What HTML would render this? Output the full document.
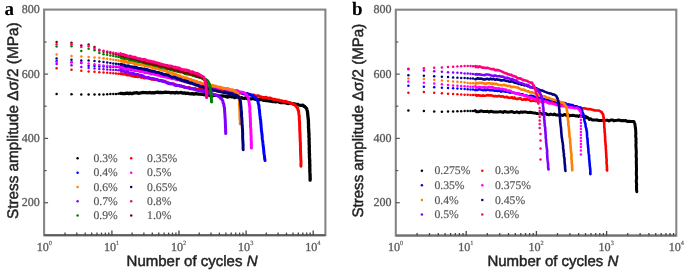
<!DOCTYPE html>
<html><head><meta charset="utf-8"><style>
html,body{margin:0;padding:0;background:#fff;width:685px;height:272px;overflow:hidden}
svg{display:block;text-rendering:geometricPrecision;filter:blur(0.6px);}
.tk{font-family:"Liberation Serif",serif;font-size:12px;fill:#505050;stroke:#6a6a6a;stroke-width:0.35px}
.tx{font-size:12.1px}
.sup{font-size:6.3px;stroke-width:0.2px}
.lg{font-family:"Liberation Serif",serif;font-size:11.7px;fill:#4c4c4c;stroke:#777;stroke-width:0.22px}
.lbl{font-family:"Liberation Sans",sans-serif;font-size:15px;fill:#1e1e1e;stroke:#2a2a2a;stroke-width:0.5px}
.yl{font-size:15.3px}
.pl{font-family:"Liberation Serif",serif;font-size:19px;font-weight:bold;fill:#000}
</style></head><body>
<svg width="685" height="272" viewBox="0 0 685 272">
<rect x="44.1" y="9.6" width="281.3" height="225.6" fill="none" stroke="#868686" stroke-width="2.1"/><line x1="44.1" y1="235.2" x2="325.4" y2="235.2" stroke="#5c5c5c" stroke-width="2"/><line x1="44.1" y1="202.7" x2="48.1" y2="202.7" stroke="#555" stroke-width="1.2"/><text x="39.7" y="206.2" text-anchor="end" class="tk">200</text><line x1="44.1" y1="170.6" x2="46.6" y2="170.6" stroke="#555" stroke-width="1.2"/><line x1="44.1" y1="138.4" x2="48.1" y2="138.4" stroke="#555" stroke-width="1.2"/><text x="39.7" y="141.9" text-anchor="end" class="tk">400</text><line x1="44.1" y1="106.2" x2="46.6" y2="106.2" stroke="#555" stroke-width="1.2"/><line x1="44.1" y1="74.1" x2="48.1" y2="74.1" stroke="#555" stroke-width="1.2"/><text x="39.7" y="77.6" text-anchor="end" class="tk">600</text><line x1="44.1" y1="42" x2="46.6" y2="42" stroke="#555" stroke-width="1.2"/><text x="39.7" y="13.3" text-anchor="end" class="tk">800</text><line x1="65" y1="235.2" x2="65" y2="232.6" stroke="#444" stroke-width="1.3"/><line x1="76.8" y1="235.2" x2="76.8" y2="232.6" stroke="#444" stroke-width="1.3"/><line x1="85.2" y1="235.2" x2="85.2" y2="232.6" stroke="#444" stroke-width="1.3"/><line x1="91.7" y1="235.2" x2="91.7" y2="232.6" stroke="#444" stroke-width="1.3"/><line x1="97" y1="235.2" x2="97" y2="232.6" stroke="#444" stroke-width="1.3"/><line x1="101.5" y1="235.2" x2="101.5" y2="232.6" stroke="#444" stroke-width="1.3"/><line x1="105.4" y1="235.2" x2="105.4" y2="232.6" stroke="#444" stroke-width="1.3"/><line x1="108.8" y1="235.2" x2="108.8" y2="232.6" stroke="#444" stroke-width="1.3"/><text x="44.4" y="251.4" text-anchor="middle" class="tk tx">10<tspan class="sup" dy="-6.6">0</tspan></text><line x1="111.9" y1="235.2" x2="111.9" y2="230.6" stroke="#444" stroke-width="1.3"/><line x1="132.1" y1="235.2" x2="132.1" y2="232.6" stroke="#444" stroke-width="1.3"/><line x1="143.9" y1="235.2" x2="143.9" y2="232.6" stroke="#444" stroke-width="1.3"/><line x1="152.3" y1="235.2" x2="152.3" y2="232.6" stroke="#444" stroke-width="1.3"/><line x1="158.8" y1="235.2" x2="158.8" y2="232.6" stroke="#444" stroke-width="1.3"/><line x1="164.1" y1="235.2" x2="164.1" y2="232.6" stroke="#444" stroke-width="1.3"/><line x1="168.6" y1="235.2" x2="168.6" y2="232.6" stroke="#444" stroke-width="1.3"/><line x1="172.5" y1="235.2" x2="172.5" y2="232.6" stroke="#444" stroke-width="1.3"/><line x1="175.9" y1="235.2" x2="175.9" y2="232.6" stroke="#444" stroke-width="1.3"/><text x="111.5" y="251.4" text-anchor="middle" class="tk tx">10<tspan class="sup" dy="-6.6">1</tspan></text><line x1="179" y1="235.2" x2="179" y2="230.6" stroke="#444" stroke-width="1.3"/><line x1="199.2" y1="235.2" x2="199.2" y2="232.6" stroke="#444" stroke-width="1.3"/><line x1="211" y1="235.2" x2="211" y2="232.6" stroke="#444" stroke-width="1.3"/><line x1="219.4" y1="235.2" x2="219.4" y2="232.6" stroke="#444" stroke-width="1.3"/><line x1="225.9" y1="235.2" x2="225.9" y2="232.6" stroke="#444" stroke-width="1.3"/><line x1="231.2" y1="235.2" x2="231.2" y2="232.6" stroke="#444" stroke-width="1.3"/><line x1="235.7" y1="235.2" x2="235.7" y2="232.6" stroke="#444" stroke-width="1.3"/><line x1="239.6" y1="235.2" x2="239.6" y2="232.6" stroke="#444" stroke-width="1.3"/><line x1="243" y1="235.2" x2="243" y2="232.6" stroke="#444" stroke-width="1.3"/><text x="178.6" y="251.4" text-anchor="middle" class="tk tx">10<tspan class="sup" dy="-6.6">2</tspan></text><line x1="246.1" y1="235.2" x2="246.1" y2="230.6" stroke="#444" stroke-width="1.3"/><line x1="266.3" y1="235.2" x2="266.3" y2="232.6" stroke="#444" stroke-width="1.3"/><line x1="278.1" y1="235.2" x2="278.1" y2="232.6" stroke="#444" stroke-width="1.3"/><line x1="286.5" y1="235.2" x2="286.5" y2="232.6" stroke="#444" stroke-width="1.3"/><line x1="293" y1="235.2" x2="293" y2="232.6" stroke="#444" stroke-width="1.3"/><line x1="298.3" y1="235.2" x2="298.3" y2="232.6" stroke="#444" stroke-width="1.3"/><line x1="302.8" y1="235.2" x2="302.8" y2="232.6" stroke="#444" stroke-width="1.3"/><line x1="306.7" y1="235.2" x2="306.7" y2="232.6" stroke="#444" stroke-width="1.3"/><line x1="310.1" y1="235.2" x2="310.1" y2="232.6" stroke="#444" stroke-width="1.3"/><text x="245.7" y="251.4" text-anchor="middle" class="tk tx">10<tspan class="sup" dy="-6.6">3</tspan></text><line x1="313.2" y1="235.2" x2="313.2" y2="230.6" stroke="#444" stroke-width="1.3"/><text x="312.8" y="251.4" text-anchor="middle" class="tk tx">10<tspan class="sup" dy="-6.6">4</tspan></text><text x="17.6" y="219" class="lbl" style="font-size:15.3px" transform="rotate(-90 17.6 219)">Stress amplitude &#916;&#963;/2 (MPa)</text><text x="126.6" y="266.2" class="lbl">Number of cycles <tspan font-style="italic">N</tspan></text>
<rect x="395.8" y="9.7" width="280.5" height="225.9" fill="none" stroke="#868686" stroke-width="2.1"/><line x1="395.8" y1="235.6" x2="676.3" y2="235.6" stroke="#727272" stroke-width="2"/><line x1="395.8" y1="202.7" x2="399.8" y2="202.7" stroke="#555" stroke-width="1.2"/><text x="391.4" y="206.2" text-anchor="end" class="tk">200</text><line x1="395.8" y1="170.6" x2="398.3" y2="170.6" stroke="#555" stroke-width="1.2"/><line x1="395.8" y1="138.4" x2="399.8" y2="138.4" stroke="#555" stroke-width="1.2"/><text x="391.4" y="141.9" text-anchor="end" class="tk">400</text><line x1="395.8" y1="106.2" x2="398.3" y2="106.2" stroke="#555" stroke-width="1.2"/><line x1="395.8" y1="74.1" x2="399.8" y2="74.1" stroke="#555" stroke-width="1.2"/><text x="391.4" y="77.6" text-anchor="end" class="tk">600</text><line x1="395.8" y1="42" x2="398.3" y2="42" stroke="#555" stroke-width="1.2"/><text x="391.4" y="13.3" text-anchor="end" class="tk">800</text><line x1="417.1" y1="235.6" x2="417.1" y2="233" stroke="#444" stroke-width="1.3"/><line x1="429.5" y1="235.6" x2="429.5" y2="233" stroke="#444" stroke-width="1.3"/><line x1="438.3" y1="235.6" x2="438.3" y2="233" stroke="#444" stroke-width="1.3"/><line x1="445.1" y1="235.6" x2="445.1" y2="233" stroke="#444" stroke-width="1.3"/><line x1="450.6" y1="235.6" x2="450.6" y2="233" stroke="#444" stroke-width="1.3"/><line x1="455.3" y1="235.6" x2="455.3" y2="233" stroke="#444" stroke-width="1.3"/><line x1="459.4" y1="235.6" x2="459.4" y2="233" stroke="#444" stroke-width="1.3"/><line x1="463" y1="235.6" x2="463" y2="233" stroke="#444" stroke-width="1.3"/><text x="395.6" y="251.4" text-anchor="middle" class="tk tx">10<tspan class="sup" dy="-6.6">0</tspan></text><line x1="466.2" y1="235.6" x2="466.2" y2="231" stroke="#444" stroke-width="1.3"/><line x1="487.3" y1="235.6" x2="487.3" y2="233" stroke="#444" stroke-width="1.3"/><line x1="499.7" y1="235.6" x2="499.7" y2="233" stroke="#444" stroke-width="1.3"/><line x1="508.5" y1="235.6" x2="508.5" y2="233" stroke="#444" stroke-width="1.3"/><line x1="515.3" y1="235.6" x2="515.3" y2="233" stroke="#444" stroke-width="1.3"/><line x1="520.8" y1="235.6" x2="520.8" y2="233" stroke="#444" stroke-width="1.3"/><line x1="525.5" y1="235.6" x2="525.5" y2="233" stroke="#444" stroke-width="1.3"/><line x1="529.6" y1="235.6" x2="529.6" y2="233" stroke="#444" stroke-width="1.3"/><line x1="533.2" y1="235.6" x2="533.2" y2="233" stroke="#444" stroke-width="1.3"/><text x="465.8" y="251.4" text-anchor="middle" class="tk tx">10<tspan class="sup" dy="-6.6">1</tspan></text><line x1="536.4" y1="235.6" x2="536.4" y2="231" stroke="#444" stroke-width="1.3"/><line x1="557.5" y1="235.6" x2="557.5" y2="233" stroke="#444" stroke-width="1.3"/><line x1="569.9" y1="235.6" x2="569.9" y2="233" stroke="#444" stroke-width="1.3"/><line x1="578.7" y1="235.6" x2="578.7" y2="233" stroke="#444" stroke-width="1.3"/><line x1="585.5" y1="235.6" x2="585.5" y2="233" stroke="#444" stroke-width="1.3"/><line x1="591" y1="235.6" x2="591" y2="233" stroke="#444" stroke-width="1.3"/><line x1="595.7" y1="235.6" x2="595.7" y2="233" stroke="#444" stroke-width="1.3"/><line x1="599.8" y1="235.6" x2="599.8" y2="233" stroke="#444" stroke-width="1.3"/><line x1="603.4" y1="235.6" x2="603.4" y2="233" stroke="#444" stroke-width="1.3"/><text x="536" y="251.4" text-anchor="middle" class="tk tx">10<tspan class="sup" dy="-6.6">2</tspan></text><line x1="606.6" y1="235.6" x2="606.6" y2="231" stroke="#444" stroke-width="1.3"/><line x1="627.7" y1="235.6" x2="627.7" y2="233" stroke="#444" stroke-width="1.3"/><line x1="640.1" y1="235.6" x2="640.1" y2="233" stroke="#444" stroke-width="1.3"/><line x1="648.9" y1="235.6" x2="648.9" y2="233" stroke="#444" stroke-width="1.3"/><line x1="655.7" y1="235.6" x2="655.7" y2="233" stroke="#444" stroke-width="1.3"/><line x1="661.2" y1="235.6" x2="661.2" y2="233" stroke="#444" stroke-width="1.3"/><line x1="665.9" y1="235.6" x2="665.9" y2="233" stroke="#444" stroke-width="1.3"/><line x1="670" y1="235.6" x2="670" y2="233" stroke="#444" stroke-width="1.3"/><line x1="673.6" y1="235.6" x2="673.6" y2="233" stroke="#444" stroke-width="1.3"/><text x="606.2" y="251.4" text-anchor="middle" class="tk tx">10<tspan class="sup" dy="-6.6">3</tspan></text><text x="676.4" y="251.4" text-anchor="middle" class="tk tx">10<tspan class="sup" dy="-6.6">4</tspan></text><text x="362.8" y="217.6" class="lbl" style="font-size:15.1px" transform="rotate(-90 362.8 217.6)">Stress amplitude &#916;&#963;/2 (MPa)</text><text x="487.4" y="266.2" class="lbl">Number of cycles <tspan font-style="italic">N</tspan></text>
<text x="4.6" y="14.6" class="pl">a</text>
<text x="352" y="14.9" class="pl">b</text>
<g fill="#000000"><circle cx="56.6" cy="93.9" r="1.25"/><circle cx="71.5" cy="94.3" r="1.25"/><circle cx="81.3" cy="94.4" r="1.25"/><circle cx="88.6" cy="94.4" r="1.25"/><circle cx="94.5" cy="94.5" r="1.25"/><circle cx="99.3" cy="94.5" r="1.25"/><circle cx="103.5" cy="94.4" r="1.25"/><circle cx="107.2" cy="94.2" r="1.25"/><circle cx="110.4" cy="94.1" r="1.25"/><circle cx="113.3" cy="94" r="1.25"/><circle cx="116" cy="93.9" r="1.25"/><circle cx="118.4" cy="93.8" r="1.25"/><polyline fill="none" stroke="#000000" stroke-width="3.3" stroke-linejoin="round" stroke-linecap="round" points="120.6,93.4 121.1,93.3 122,93.5 123.3,93.6 125.1,93.5 127.4,93.1 128.9,93.7 130.2,93.1 131.9,93.7 133.5,93.1 134.8,92.8 136,92.9 137.1,92.7 138.3,93.3 139.5,93.1 140.8,92.8 142.5,92.5 144.2,92.6 146.1,92.7 147.7,92.8 149.4,92.5 151.2,92.8 152.7,92.7 154.5,92.9 156.2,92.3 157.9,92.1 159.3,92.7 160.8,92.4 162.4,92.6 164.1,92.4 165.7,92.2 167.2,92.4 168.8,92.3 170.4,92.8 171.9,92.6 173.3,92.6 175,93 176.6,92.4 178.1,92.8 179.6,92.7 181.2,92.5 182.7,93.1 184.3,92.8 185.9,93.5 187.4,93.2 189.1,93.7 190.8,93.8 192.2,93.6 193.9,94.1 195.7,93.6 197.1,93.8 198.8,94.2 200.6,94.1 202.2,94.4 204.1,94.7 206,95 207.1,95 208.3,94.6 209.6,95.4 210.8,95.5 211.9,95.2 213,95.6 214.3,95.2 215.5,95.4 216.8,95.4 217.9,95.6 219.2,95.8 220.3,96.4 222.2,95.9 223.8,96.2 225.5,96.2 227.3,97.1 228.7,96.7 230.2,96.5 231.8,96.8 233.4,96.8 234.6,97.6 236.1,97 237.4,97 238.8,98 240.1,97.8 241.2,97.6 242.6,98.1 244.2,98.3 245.9,97.9 247.7,98.8 249.1,98.7 250.3,98.8 251.5,98.8 253,98.5 254.4,98.9 255.9,99.4 257.3,99.3 258.5,99.9 259.7,99.5 260.7,99.5 262,99.6 263.5,100.4 264.9,100.2 266.1,100.6 267.4,100.7 269.1,101 270.5,100.9 271.8,101.3 273.1,101.5 274.5,101.3 275.6,101.9 276.9,101.4 278,101.5 279.6,102.3 280.8,102.5 282.4,102.5 283.6,102.6 284.8,102.2 286.2,103 287.3,103.4 288.5,103.5 290,103.1 291.2,103.3 292.6,103.8 294.3,103.9 296,104.6 297.4,104.4 298.9,105 300.8,105.4 302.2,105.3 302.8,105.1 303.4,105.5 303.8,106.3 304.4,106.3 305,106.8 305.3,107.1 305.8,107.7 306,108 306.3,108.2 306.8,109 307,110.1 307.3,110.8 307.5,112 307.6,113.5 307.8,114.9 308,117 308.2,118.8 308.4,120.3 308.4,123.1 308.6,124.7 308.5,126.2 308.5,127.3 308.6,129 308.8,130.5 308.7,131.8 308.9,132.6 309,134.9 308.9,136.3 309,137.5 309.2,139.4 309,140.6 309.2,142.1 309.1,143.8 309.3,145.1 309.3,147.2 309.2,148.8 309.4,150.7 309.3,152.9 309.6,154.6 309.4,155.8 309.5,157.4 309.6,158.1 309.6,160 309.8,160.6 309.6,162.5 309.8,163.5 309.7,164.2 309.9,165.8 309.7,167.6 309.9,169.1 309.8,170.8 309.9,172.2 310,173.2 310.1,176.1 310.1,177.3 310.2,178.8 310.1,179.7 310.1,180.2"/></g>
<g fill="#ff0000"><circle cx="56.6" cy="68.2" r="1.25"/><circle cx="71.5" cy="69.8" r="1.25"/><circle cx="81.3" cy="70.7" r="1.25"/><circle cx="88.6" cy="71.4" r="1.25"/><circle cx="94.5" cy="71.8" r="1.25"/><circle cx="99.3" cy="72.2" r="1.25"/><circle cx="103.5" cy="72.6" r="1.25"/><circle cx="107.2" cy="72.8" r="1.25"/><circle cx="110.4" cy="73.1" r="1.25"/><circle cx="113.3" cy="73.3" r="1.25"/><circle cx="116" cy="73.5" r="1.25"/><circle cx="118.4" cy="73.7" r="1.25"/><polyline fill="none" stroke="#ff0000" stroke-width="3.0" stroke-linejoin="round" stroke-linecap="round" points="120.6,73.7 121.3,73.8 122.5,73.9 124.3,74 125.5,74.2 126.9,74.9 128.2,75.1 130,75 131.2,75.5 132.3,76 133.5,75.9 135,76.6 136.4,76.6 137.9,76.7 139.1,76.6 140.2,76.6 141.4,77.4 142.7,77 144.2,77.9 145.9,78 147.2,77.8 148.6,78.3 149.9,78.5 151.3,79.2 152.7,79 153.7,79.6 154.9,79.3 156.4,79.6 158.2,80.1 159.5,80.4 160.8,80.4 162,80.8 163.2,80.8 165.2,81.5 166.8,82.3 168.6,82.9 170.6,83.7 172.7,83.8 174.1,84 175.3,84.7 176.5,85.3 178.1,85.4 179.6,85.9 180.9,86 182.6,86.7 184.3,87.1 186,87.5 187.8,87.7 188.9,87.4 190.1,87.9 191.3,88.6 192.6,88.6 193.9,88.8 195.1,88.4 196.4,89.3 197.6,89.3 198.9,89 200.3,89.3 201.4,89.5 202.9,89.6 204.3,90.4 205.5,90 206.9,90.4 208.3,90.5 209.7,90.1 211,90.3 212.5,90.5 213.9,90.3 215.2,90.6 216.8,91 218.3,90.7 219.7,90.9 221.2,90.7 222.9,90.8 224.5,91.6 225.5,91.3 227,91.9 228.1,91.3 229.3,92.1 230.6,91.9 231.9,92 233.5,91.8 234.8,92.3 236.2,92.6 237.4,93 238.9,92.4 240.2,93 241.5,93 242.6,93.3 243.8,93.9 244.9,94 246.3,93.6 247.6,94.4 248.9,94.2 250,94.5 251.4,94.9 252.5,95 253.8,94.9 255,95.8 256.4,96.2 257.7,95.8 259.1,96 260.4,96.9 261.9,97.1 263.2,97.5 264.7,97.4 266,97.2 267.2,97.9 268.4,98.3 269.5,98 270.9,98.3 272,98.8 273.3,99.4 274.8,99.2 276.1,99.6 277.4,99.9 278.8,100.1 280.3,101.1 281.9,100.8 283.3,101.8 284.4,101.3 285.6,101.5 287.2,101.9 288.6,102.4 291,103.6 292.5,103.6 293.1,104.1 293.7,104.3 294.2,104.7 295.1,105 295.5,105.9 296.1,106 296.4,106.6 296.9,107.3 297.4,108.3 297.8,108.3 297.9,109.8 298.4,110.6 298.6,111.5 298.8,113.7 299.1,115.2 299.3,116.3 299.2,118.1 299.4,120.6 299.6,122.6 299.6,124.8 299.7,126.8 299.7,129.2 299.8,131.7 300,132.4 299.9,133.5 300.1,135.2 300,135.9 300.1,137.6 300.1,138.5 300.2,139.6 300.2,141.3 300.4,142.7 300.5,143.8 300.3,144.9 300.6,146.6 300.4,147.3 300.5,149.2 300.5,150.1 300.6,152.1 300.6,152.6 300.6,154.2 300.7,155.4 300.8,157.2 300.8,159 301,161.1 301,162.7 300.9,164.5 300.9,165.7 301,165.7 300.9,166.2"/></g>
<g fill="#0000ff"><circle cx="56.6" cy="61" r="1.25"/><circle cx="71.5" cy="62.2" r="1.25"/><circle cx="81.3" cy="63.1" r="1.25"/><circle cx="88.6" cy="65.7" r="1.25"/><circle cx="94.5" cy="66.1" r="1.25"/><circle cx="99.3" cy="66.5" r="1.25"/><circle cx="103.5" cy="66.6" r="1.25"/><circle cx="107.2" cy="66.8" r="1.25"/><circle cx="110.4" cy="66.9" r="1.25"/><circle cx="113.3" cy="67" r="1.25"/><circle cx="116" cy="67.1" r="1.25"/><circle cx="118.4" cy="67.1" r="1.25"/><polyline fill="none" stroke="#0000ff" stroke-width="3.0" stroke-linejoin="round" stroke-linecap="round" points="120.7,67.7 121.2,67.3 122.4,68.1 124.2,67.6 125.4,68.1 126.9,68.8 128.4,69.2 130,68.8 131,69.6 132.4,69 133.6,69.6 135,69.8 136.3,69.8 137.8,70.3 139.2,70.3 140.4,70.6 141.5,71.4 142.9,71.3 143.9,71.6 145.2,72.2 146.4,71.9 147.8,71.9 148.9,72.8 150.3,72.4 151.3,72.6 152.8,73 154,73.9 155.1,73.6 156.5,74.1 157.5,74.5 158.8,74.3 159.9,75 161.4,75.2 162.7,74.9 163.7,75.6 165.2,76.3 166.3,75.9 167.5,76.4 168.9,76.4 170.1,77.2 171.4,77.5 172.5,77.3 173.7,77.7 175.1,77.7 176.2,78.6 177.4,78.3 178.6,79 180,79.7 181.4,80 182.4,79.5 183.6,80.1 185.1,80.4 186.2,80.6 187.5,81.2 188.8,81.6 190,81.3 191.3,81.7 192.5,82.1 193.8,82.2 194.9,82.5 196.2,83.4 197.5,83.2 198.7,84 200,83.6 201.3,84.3 202.6,84.1 203.7,85 205.1,85.4 206.1,85.1 207.4,85.3 208.9,85.9 210.1,86 211.3,86.3 212.4,86.9 213.9,86.6 215,87.3 216.2,87.3 217.4,87.5 218.7,88.1 220,88 221.1,88.4 222.5,88.5 224,88.8 225.6,89.5 227,89.4 228.4,90.1 229.9,90 231.1,90.8 232.5,90.7 233.7,91.6 234.9,91.5 236.6,91.7 238.4,92.5 239.7,92.1 241.2,92.4 242.3,93.3 243.6,93.5 245.7,93.9 247.3,93.6 248.7,94.3 250.2,95 251.3,95.2 252.5,95.6 253.5,95.9 254.4,97 255.1,97.2 255.9,98.2 256.3,98.3 257,100 257.4,100.2 258,101.8 258.3,103.4 258.7,104.5 259,106.3 259.1,108.7 259.5,110.2 259.6,112.6 259.9,114.9 260,116 260.3,117.9 260.2,118.9 260.6,119.7 260.7,121.2 260.8,123 261,124.3 261.1,126 261.2,127.6 261.4,129 261.4,130.7 261.7,131.9 261.9,133.9 262,134.8 262.2,136.2 262.2,138 262.4,139.4 262.6,140.5 262.8,141.9 263,143.9 263.1,144.6 263.2,146.3 263.5,147.4 263.6,149.5 263.8,150.6 263.8,152.1 264.1,154.3 264.4,155.5 264.6,157.9 264.6,158.6 264.9,159.4 265,160.2 265,160.4"/></g>
<g fill="#ff00ff"><circle cx="56.6" cy="62" r="1.25"/><circle cx="71.5" cy="62.3" r="1.25"/><circle cx="81.3" cy="62.5" r="1.25"/><circle cx="88.6" cy="63.6" r="1.25"/><circle cx="94.5" cy="64.3" r="1.25"/><circle cx="99.3" cy="64.9" r="1.25"/><circle cx="103.5" cy="65.4" r="1.25"/><circle cx="107.2" cy="65.7" r="1.25"/><circle cx="110.4" cy="66" r="1.25"/><circle cx="113.3" cy="66.3" r="1.25"/><circle cx="116" cy="66.6" r="1.25"/><circle cx="118.4" cy="66.8" r="1.25"/><polyline fill="none" stroke="#ff00ff" stroke-width="3.0" stroke-linejoin="round" stroke-linecap="round" points="120.6,67.5 121.2,67.1 122.5,67.4 124.2,67.6 125.5,68.6 126.8,68.8 128.2,69 129.8,69.1 131.1,69.2 132.4,69.7 133.6,70.2 134.9,70.6 136.5,70.4 137.9,70.6 139.2,71.1 140.3,71.6 141.5,71.3 142.8,71.4 144.1,71.9 145.3,72.8 146.5,72.8 147.7,72.5 148.8,72.9 150.2,73.4 151.4,74.1 152.6,73.7 153.9,73.8 155,74.4 156.3,74.7 157.5,75.2 158.9,75.1 160.1,75.6 161.2,76.3 162.5,75.9 163.7,76.6 165.1,77 166.3,76.8 167.4,77.5 168.8,77.5 170.1,77.9 171.4,78.4 172.4,78.8 173.6,78.8 175,78.8 176.1,79.6 177.4,79.7 178.9,79.6 179.9,80.3 181.3,80.7 182.6,80.6 183.7,80.9 184.9,81.8 186.3,81.9 187.4,82.3 188.9,82.2 190.1,82.5 191.3,82.4 192.5,82.7 193.8,83.6 195.2,83.9 196.5,83.7 197.7,84.1 199,84.4 200.2,84.8 201.7,84.6 202.9,84.7 204,85.1 205.5,86 206.7,85.7 208.1,85.9 209.2,86.7 210.6,86.7 211.9,87.2 213.1,87.3 214.5,87.5 215.7,87.6 217.1,87.5 218.3,88 219.6,88.4 220.9,87.8 222.2,88.8 223.6,88.3 225.1,88.5 226.8,89.3 228.4,89.7 229.6,89.8 231,90.2 232.5,90.5 233.5,90.8 235,91.1 235.9,90.6 237.5,90.8 239.2,91.9 240.4,92.2 241.6,92.1 243.4,92.5 244.9,93.2 245.6,94 246.3,94.5 247,95.8 247.6,96.4 248.3,97.8 248.6,99.2 248.8,100.4 249.1,102.4 249.3,104.1 249.5,105.5 249.8,107.3 249.9,109.4 249.8,111.5 250.2,114.5 250.1,116.3 250.3,117.8 250.3,118.7 250.4,120.3 250.4,121.6 250.4,122.2 250.6,123.7 250.5,125.1 250.5,126.4 250.8,128.8 250.9,130.8 250.9,133.1 251.1,135.2 251.2,137.4 251.1,139.8 251.4,142 251.3,144 251.3,145 251.4,146.4 251.5,147.1 251.4,147.4 251.4,148.1"/></g>
<g fill="#ff8000"><circle cx="56.6" cy="54.4" r="1.25"/><circle cx="71.5" cy="56.1" r="1.25"/><circle cx="81.3" cy="56.6" r="1.25"/><circle cx="88.6" cy="56.9" r="1.25"/><circle cx="94.5" cy="57.4" r="1.25"/><circle cx="99.3" cy="57.8" r="1.25"/><circle cx="103.5" cy="58.3" r="1.25"/><circle cx="107.2" cy="58.8" r="1.25"/><circle cx="110.4" cy="59.3" r="1.25"/><circle cx="113.3" cy="59.7" r="1.25"/><circle cx="116" cy="60" r="1.25"/><circle cx="118.4" cy="60.4" r="1.25"/><polyline fill="none" stroke="#ff8000" stroke-width="3.0" stroke-linejoin="round" stroke-linecap="round" points="120.7,60.9 121.2,60.8 122.6,61.2 124.2,61.4 125.7,61.5 126.7,61.8 128.4,62.6 129.8,62.2 131,62.6 132.3,62.7 133.5,63 135.1,63.8 136.3,64.3 137.8,64 139.2,64.6 140.4,64.6 141.5,65 142.7,64.8 144,65 145.2,65.9 146.5,65.9 147.7,66.1 148.8,66.6 150.2,67 151.5,67 152.7,67.6 153.9,67.5 155.2,68.4 156.4,68.5 157.7,68.8 158.9,69 160,69.5 161.2,69.7 162.6,70.3 163.8,70.2 165,70.8 166.3,71.1 167.6,72 168.7,72.2 170.1,72.3 171.3,73.3 172.4,73.3 173.7,73.9 175.1,74.1 176.1,74.6 177.5,75.2 178.8,75.6 180.1,75.9 181.2,76.8 182.4,77 183.7,77.5 184.8,78.1 186.1,77.7 187.3,78.4 188.4,78.9 189.7,79.5 190.8,79.5 192,80.3 193.7,80.6 195,81.3 196.5,81.3 197.9,82.2 199.6,82.5 200.9,82.9 202.3,83.6 203.7,83.7 205.2,84.3 206.5,84.1 207.9,84.3 209.3,84.9 210.6,85.1 211.8,85.4 213.1,85.6 214.2,86.3 215.6,86.1 216.8,86.6 218.6,87.1 220.3,87.2 221.9,87.9 223.2,88.2 224.7,88.5 225.9,88.8 228.3,88.6 230.1,89.9 231.9,89.7 233,90 233.9,90.9 234.7,90.7 235.6,91.7 236,92.1 236.7,92.5 237.2,93 237.7,93.4 237.9,93.8 238.2,94.4 238.5,95.2 238.7,95.5 238.8,96.3 239.1,97.4 239.2,98.8 239.4,100.5 239.5,102.5 239.4,104.2 239.6,105.7 239.7,107.7 239.7,109.1 239.9,110.5 239.9,112.7 239.8,114.5 240.1,116.5 240,118.3 240.1,119.4 240.3,120.3 240.3,121.9 240.2,123 240.2,123.3 240.3,124 240.2,123.9"/></g>
<g fill="#000080"><circle cx="56.6" cy="58.6" r="1.25"/><circle cx="71.5" cy="59.8" r="1.25"/><circle cx="81.3" cy="60.5" r="1.25"/><circle cx="88.6" cy="60.6" r="1.25"/><circle cx="94.5" cy="61.1" r="1.25"/><circle cx="99.3" cy="61.5" r="1.25"/><circle cx="103.5" cy="62" r="1.25"/><circle cx="107.2" cy="62.5" r="1.25"/><circle cx="110.4" cy="63" r="1.25"/><circle cx="113.3" cy="63.4" r="1.25"/><circle cx="116" cy="63.7" r="1.25"/><circle cx="118.4" cy="64.1" r="1.25"/><polyline fill="none" stroke="#000080" stroke-width="3.0" stroke-linejoin="round" stroke-linecap="round" points="120.6,64.5 121.3,64.4 122.6,64.7 124.3,65 125.6,65.9 126.8,66 128.3,65.8 129.8,66.4 131.1,66.8 132.2,67 133.7,67.1 134.9,67.2 136.3,67.4 138,68.1 139.1,68.5 140.4,68.6 141.6,68.8 142.8,69.1 144.1,69 145.3,69.5 146.6,69.4 147.6,69.7 149,70.7 150.2,70.5 151.5,71.2 152.7,71 153.8,71.5 155.1,71.8 156.4,72.6 157.5,72.6 158.7,72.5 160.2,73.3 161.4,73.5 162.4,73.8 163.8,74.7 165.2,74.6 166.3,74.7 167.6,75.1 168.7,75.3 169.9,76.3 171.2,77 172.4,77.3 173.7,76.9 175.1,77.5 176.3,77.9 177.4,78.8 178.8,79.3 180.1,79.1 181.3,80.1 182.5,80.7 183.6,81.1 184.9,80.7 185.9,81.7 187.3,81.5 188.6,82.6 190,83.2 191.6,83 192.9,83.9 194.3,84.4 195.5,85 196.8,85.2 198.2,85.4 199.3,86.2 201.2,86.7 202.8,86.8 204.3,87.8 206,88.2 207.3,88.3 208.9,88.9 210,88.8 211.2,89.6 212.4,89.7 213.7,90.2 215,90 216,90.3 217.3,90.8 218.6,91.4 220.7,91.9 223.1,92.4 225.3,92.4 227.5,93.3 229.6,93.8 231.4,93.5 233.2,94.6 234.6,95.1 236.1,95.1 237.1,95.9 237.9,96 238.5,97 239,97.2 239.3,98.2 239.8,98.6 240.1,100.2 240.4,101.1 240.6,102.6 240.7,103.9 240.9,106.2 241.1,108.1 241.2,110 241.3,111.5 241.6,113.8 241.5,116 241.8,117.5 241.9,119.5 242,121.1 242,123.9 242.3,125.4 242.3,127.2 242.5,129.4 242.6,131.9 242.7,134.3 242.6,135.8 242.7,138.3 242.7,139.4 242.9,141.4 243,143.6 243.1,144.6 243.1,146.4 243,148.2 243.1,148.7 243.2,149.7 243.2,149.5"/></g>
<g fill="#8000ff"><circle cx="56.6" cy="63.9" r="1.25"/><circle cx="71.5" cy="65.2" r="1.25"/><circle cx="81.3" cy="67.1" r="1.25"/><circle cx="88.6" cy="68.1" r="1.25"/><circle cx="94.5" cy="68.5" r="1.25"/><circle cx="99.3" cy="68.9" r="1.25"/><circle cx="103.5" cy="69.2" r="1.25"/><circle cx="107.2" cy="69.5" r="1.25"/><circle cx="110.4" cy="69.7" r="1.25"/><circle cx="113.3" cy="69.9" r="1.25"/><circle cx="116" cy="70" r="1.25"/><circle cx="118.4" cy="70.2" r="1.25"/><polyline fill="none" stroke="#8000ff" stroke-width="3.0" stroke-linejoin="round" stroke-linecap="round" points="120.6,70.2 121.4,71.1 122.4,70.5 124.3,71.3 125.7,72.1 126.9,71.6 128.4,72.6 129.9,73.3 131,72.8 132.4,73.8 133.6,73.6 135,74.4 136.3,74.3 137.8,74.5 139.1,74.9 140.3,75.2 141.6,75.4 142.8,75.8 144.2,76.9 145.8,77.3 147.5,77.6 148.7,77.6 150.2,78.4 151.8,78.5 153,78.6 154.5,79.1 155.8,79.2 156.9,79.4 158.3,80.2 159.3,80.8 161.1,80.8 162.7,81.2 164.5,81.7 165.9,82.2 167.3,83 168.6,83.5 169.9,83.8 171.3,83.5 172.5,83.9 173.7,84.2 175,85.2 176.4,85.5 177.4,85.3 178.9,85.4 180.1,85.9 181.4,86 182.6,86.6 183.7,86.6 185.1,87.4 186.2,87.6 187.6,87.7 188.8,87.9 189.9,88.7 191.3,88.5 192.3,88.7 193.7,89.3 194.8,89.3 196,90 198.4,90.5 200.4,90.5 202.6,91.4 204.7,91.6 206.6,92.3 208.5,93.3 210.2,93 211.8,93.9 213.2,94.1 214.3,95 215.4,94.7 216.4,95.4 217.1,95.6 217.8,95.8 218.3,96.2 219.1,96.7 219.5,97 220.1,97.6 220.5,98.3 221.3,98.6 221.7,99.4 222.1,99.7 222.7,100.8 222.9,101.5 223.2,103.1 223.5,103.4 223.9,104.5 223.9,105.9 224.3,107 224.4,107.7 224.6,109.4 224.5,110 224.7,111.5 224.7,112.4 224.8,113.6 225,115.5 224.9,116.4 225.1,117.3 225.2,119.3 225.2,120.1 225.4,121.5 225.3,123.2 225.4,124.1 225.4,125.4 225.5,127.4 225.6,128.8 225.7,130 225.5,130.7 225.8,132 225.6,132.3 225.7,132.7 225.7,132.8 225.7,133.4"/></g>
<g fill="#008000"><circle cx="56.6" cy="46.6" r="1.25"/><circle cx="71.5" cy="46.2" r="1.25"/><circle cx="81.3" cy="51.1" r="1.25"/><circle cx="88.6" cy="48.7" r="1.25"/><circle cx="94.5" cy="50.3" r="1.25"/><circle cx="99.3" cy="53.1" r="1.25"/><circle cx="103.5" cy="54.2" r="1.25"/><circle cx="107.2" cy="54.8" r="1.25"/><circle cx="110.4" cy="55.4" r="1.25"/><circle cx="113.3" cy="56" r="1.25"/><circle cx="116" cy="56.5" r="1.25"/><circle cx="118.4" cy="56.9" r="1.25"/><polyline fill="none" stroke="#008000" stroke-width="3.0" stroke-linejoin="round" stroke-linecap="round" points="120.5,57 121.4,57.7 122.6,57.9 124.4,58.6 125.7,58.1 126.8,58.6 128.4,58.9 129.9,59.9 131.1,59.6 132.3,60 133.7,60.2 134.9,60.8 136.3,61.1 138,61.4 139,61.6 140.3,61.6 141.5,61.9 142.7,62.4 144,62.6 145.2,63.1 146.6,63.5 147.8,63.8 149,64.2 150.3,64.3 151.6,64.6 152.8,64.7 154.1,65.2 155.4,65.6 156.6,65.7 158.2,66 159.4,66.5 160.6,67.3 162,67.4 163.2,67.1 164.8,67.8 165.9,68.1 167.3,68.8 168.6,68.6 170.2,69.5 171.3,69.4 172.7,70.1 174.2,70.6 175.6,70.7 177,71.2 178.4,71.4 179.8,71.9 181.2,71.8 182.6,72.1 184,73 185.3,73.7 186.6,73.5 187.9,74.3 189.1,74.2 190.3,74.6 191.8,74.9 193.2,75.5 194.6,75.7 196,76.6 197.1,76.6 198.3,76.9 199.8,77.6 201.5,77.7 202.8,78.4 204,79.3 205.9,79.5 206.9,80.8 207.4,80.6 208.1,81.6 208.6,82.5 208.9,83.4 209.2,83.7 209.6,84.3 209.7,85.3 209.9,86.5 210.1,87 210.1,87.7 210.3,88.7 210.4,89.8 210.6,90.3 210.6,91.2 210.8,91.7 210.8,92.9 210.8,93.2 211.1,94.4 211.1,94.5 211.2,95.8 211.3,96.8 211.4,97 211.2,97.6 211.4,98.5 211.3,99 211.5,100 211.5,100.9 211.6,100.5 211.5,101.5 211.5,101.7 211.5,101.5 211.7,101.9"/></g>
<g fill="#800000"><circle cx="56.6" cy="42" r="1.25"/><circle cx="71.5" cy="42.7" r="1.25"/><circle cx="81.3" cy="45.4" r="1.25"/><circle cx="88.6" cy="44.5" r="1.25"/><circle cx="94.5" cy="47" r="1.25"/><circle cx="99.3" cy="50.5" r="1.25"/><circle cx="103.5" cy="51.7" r="1.25"/><circle cx="107.2" cy="52.4" r="1.25"/><circle cx="110.4" cy="53.1" r="1.25"/><circle cx="113.3" cy="53.7" r="1.25"/><circle cx="116" cy="54.2" r="1.25"/><circle cx="118.4" cy="54.7" r="1.25"/><polyline fill="none" stroke="#800000" stroke-width="3.0" stroke-linejoin="round" stroke-linecap="round" points="120.7,54.9 121.6,55.5 123.4,56 124.8,56.7 126.2,56.6 127.3,56.7 128.8,57 129.8,57.3 131.5,58.3 133,58.7 134.4,58.4 136,59.1 137.4,59.5 138.6,59.8 140,60.7 141.4,60.6 142.7,61 143.9,61.8 145.3,62.2 146.6,62.2 147.8,62 149.2,63.1 150.3,63.4 151.6,63.2 152.8,64.2 154,64.5 155.3,64.3 156.8,64.6 158.1,65.5 159.5,65.8 160.8,65.6 162.1,66 163.5,66.4 164.7,66.6 165.9,67.2 167.2,67.2 168.5,68.3 170,68.1 171.4,68.6 172.9,68.7 174.3,69.3 175.4,70 176.7,70 178.2,70.2 179.6,71.3 181.3,71.1 182.7,72 184,72.6 185.4,72.9 186.8,72.6 187.9,72.9 189.2,73.3 190.4,73.9 191.7,74 193.2,74.4 194.6,74.7 195.8,75.5 196.9,76.1 198.1,76.3 200.1,76.7 201.7,77.2 202.9,78.6 203.9,79 204.5,79.5 204.9,80 205.1,80.3 205.4,81.1 205.6,82.2 205.8,82.7 206.1,83.9 206.3,84.9 206.2,85.3 206.2,86.7 206.5,87.4 206.4,88.6 206.6,89.2 206.7,90.2 206.7,91 206.6,92.5 206.8,93.3 206.6,93.5 206.6,94.4 206.7,95.3 206.6,95.7 206.8,96.1 206.9,96.7 206.9,96.7 206.8,97.2"/></g>
<g fill="#ff0080"><circle cx="56.6" cy="44.2" r="1.25"/><circle cx="71.5" cy="44.2" r="1.25"/><circle cx="81.3" cy="47.1" r="1.25"/><circle cx="88.6" cy="46.3" r="1.25"/><circle cx="94.5" cy="48.7" r="1.25"/><circle cx="99.3" cy="49.8" r="1.25"/><circle cx="103.5" cy="50.7" r="1.25"/><circle cx="107.2" cy="51.4" r="1.25"/><circle cx="110.4" cy="52.1" r="1.25"/><circle cx="113.3" cy="52.7" r="1.25"/><circle cx="116" cy="53.2" r="1.25"/><circle cx="118.4" cy="53.7" r="1.25"/><polyline fill="none" stroke="#ff0080" stroke-width="3.0" stroke-linejoin="round" stroke-linecap="round" points="120.6,53.7 121.7,54.6 123.4,54.4 124.9,55.3 126.1,55.3 127.3,56.1 128.6,56.5 130,56 131.5,56.7 133.1,57.4 134.5,57.1 136.1,57.8 137.5,58.4 138.8,58.8 140.2,58.8 141.3,59.4 142.7,59.5 144.1,59.5 145.4,59.7 146.7,60.7 147.8,60.8 149.2,61.2 150.3,61.1 151.4,61.5 152.8,61.7 154,61.9 155.5,62.7 156.7,62.7 158.1,63.2 159.6,63.4 160.8,64.2 162,64.3 163.3,64.8 164.6,65.1 165.8,65.3 167.1,65.4 168.6,66.1 169.9,66 171.3,66.2 172.7,66.7 174,67.4 175.3,67.1 176.6,67.8 177.8,67.8 179.3,68.1 181,69.1 182.3,69.5 183.8,69.7 184.9,70 186.3,70.1 188,70.4 189.7,71.4 191,72 192.4,71.8 193.5,72.1 194.7,73.1 197.1,73.4 198.8,74.4 200.5,75.4 201.7,76 202.8,76.6 203.4,76.8 203.9,77.6 204.2,78.5 204.5,79.5 204.8,79.5 205.1,80.9 205.4,81.8 205.7,82.9 205.7,83.5 205.7,84.3 205.9,85.1 206.1,86.3 206.1,88.1 206.1,88.3 206.2,89.5 206.4,90.5 206.5,92.4 206.5,93.2 206.4,94.5 206.5,95.1 206.5,95.9 206.6,96.8 206.7,96.7 206.5,97.2 206.6,97.3"/></g>
<g fill="#000000"><circle cx="408.4" cy="110.5" r="1.25"/><circle cx="423.9" cy="111" r="1.25"/><circle cx="434.2" cy="111.5" r="1.25"/><circle cx="441.9" cy="111.8" r="1.25"/><circle cx="448" cy="111.6" r="1.25"/><circle cx="453.1" cy="111.5" r="1.25"/><circle cx="457.4" cy="111.3" r="1.25"/><circle cx="461.2" cy="111.2" r="1.25"/><circle cx="464.6" cy="111.1" r="1.25"/><circle cx="467.7" cy="111.1" r="1.25"/><circle cx="470.5" cy="111" r="1.25"/><circle cx="473" cy="111.1" r="1.25"/><polyline fill="none" stroke="#000000" stroke-width="3.0" stroke-linejoin="round" stroke-linecap="round" points="475.2,110.7 475.7,111.1 476.7,111.7 477.8,111.8 479.4,111.5 481.2,110.8 483.5,111.6 484.7,111.6 486.3,111.5 487.7,111.3 489.2,112.1 490.7,111.3 492.5,111.7 494,112 495.8,111.9 497.6,111.9 499.5,111.8 500.5,111.6 502.1,112 503,112.4 504.4,111.5 505.8,111.8 507,112.1 508.3,112.2 509.6,112.1 511.1,111.6 512.5,111.7 513.9,112.6 515.3,112.5 516.9,111.8 518.4,112.5 519.5,112.7 521,111.9 522.5,112.4 523.7,111.9 525.4,111.9 526.9,112.3 528.3,112.6 529.9,112.3 531.3,112.5 532.6,112.8 534.7,112.9 536.2,113.4 537.1,113.4 537.8,113.6 539,113.9 540.6,113.5 543.1,114.4 544.5,113.4 545.8,113.6 547.5,114.6 549,114.8 550.5,114.1 551.6,114.4 553.2,114.7 554.4,114.1 555.9,115.1 557.4,114.9 558.7,115.1 560,114.5 561.4,115.1 562.6,115.5 564.2,114.6 565.4,114.8 567,115.8 568.4,114.8 569.5,115.9 571,115.4 572.7,115.3 574.5,115.6 576,116 577.2,115.8 578.5,116.5 579.8,115.6 581.6,116.1 583.1,116.5 583.9,116.4 584.6,116.8 585.5,116.3 586.3,117.7 586.8,117 587.7,117.5 588.1,118.1 588.7,118.5 589.3,119.4 590.5,118.7 592,119.9 594.4,120.1 595.7,120.1 597,119.8 598.8,120.6 600.6,120.4 601.7,120.6 603.2,120.3 604.4,120.2 605.9,120.3 607.3,120.2 608.9,121 610.2,120.3 611.4,120.1 612.7,120 613.9,120.9 615.6,120.4 617.1,120.3 618.5,120 619.8,120.3 621.3,120.7 622.7,120.5 624.4,120.8 625.8,120.4 627.3,121.4 628.7,121.3 630.9,121.6 632.4,121.4 633.7,121.4 633.9,121.4 634.2,122.4 634.8,123.4 635,124.8 635.3,127.4 635.6,128.9 635.7,131.1 635.7,131.3 635.9,133.8 635.7,134.4 635.7,136.5 636,138.4 636.1,139 635.9,140.9 636,141.7 636.1,142.9 635.9,144.2 635.9,145.8 636,147 636.1,148 636.1,149.1 636.3,151.2 636.3,152 636.2,154.3 636.2,155 636.1,156.6 636.4,158 636.4,160 636.3,161.8 636.3,163.4 636.4,164.3 636.4,165.5 636.4,167.3 636.5,168 636.5,170.1 636.4,170.6 636.4,172.7 636.3,172.9 636.4,175.2 636.6,176.3 636.6,177.7 636.6,178.8 636.3,180.2 636.3,181.9 636.5,183.2 636.7,185 636.4,186.1 636.6,188.3 636.5,189.2 636.7,190.7 636.8,191.7"/></g>
<g fill="#ff0000"><circle cx="408.4" cy="92.7" r="1.25"/><circle cx="423.9" cy="92" r="1.25"/><circle cx="434.2" cy="92.7" r="1.25"/><circle cx="441.9" cy="93.2" r="1.25"/><circle cx="448" cy="93.7" r="1.25"/><circle cx="453.1" cy="94" r="1.25"/><circle cx="457.4" cy="94.3" r="1.25"/><circle cx="461.2" cy="94.5" r="1.25"/><circle cx="464.6" cy="94.7" r="1.25"/><circle cx="467.7" cy="94.8" r="1.25"/><circle cx="470.5" cy="94.9" r="1.25"/><circle cx="473" cy="95" r="1.25"/><polyline fill="none" stroke="#ff0000" stroke-width="2.6" stroke-linejoin="round" stroke-linecap="round" points="475.4,94.9 475.8,95 476.4,95.6 477.5,95.4 479,95.4 481.1,95.7 483.3,95.4 484.8,95.8 486.3,95.5 487.6,95.1 489.1,95.4 490.7,95.2 492.5,95.8 493.9,96.3 495.5,95.9 497.2,96.4 499.1,95.8 500.8,96.7 502.3,96.2 504.1,97.1 505.8,97.1 507.1,96.9 508.3,97.6 509.4,97.8 510.6,97.8 512,97.3 513.3,98.4 514.3,97.4 515.5,98.8 516.7,98.9 518,98.9 519.2,98.4 520.7,98.4 521.8,99.6 523.2,99.7 524.5,98.9 525.5,100 526.9,99.2 528.1,99.6 529.3,99.7 530.5,100.9 531.8,100.9 533,100.6 534.2,100.7 535.5,101.1 536.7,101.3 538.1,100.7 539.3,101.3 540.8,101.3 541.8,102.2 543.3,102 544.3,101.5 545.5,101.5 546.7,102.2 548.1,102.4 549.3,101.8 550.6,102.7 551.8,102.8 553,103.4 554.3,103.3 555.9,103 557.6,104.1 559.3,103.6 561.1,103.6 563,103.7 564.5,105.1 566,105 567.7,104.9 569.2,105 571.1,106.2 572.6,105.6 574.1,106.3 575.6,106.8 577,107.7 578.3,107.7 580,107.6 581.2,108.5 582.4,108.3 583.8,108.2 585.1,108.4 587.4,109.1 589.6,109.1 591.6,109.6 593.3,109.9 595,110.5 596.6,110.5 598,110.5 599,110.5 600.3,111.3 600.9,111.7 601.6,111.7 601.9,112.9 602.4,113.3 602.8,114.4 603.2,114.4 603.3,116.6 603.7,117.1 603.6,118.9 603.8,120.8 604.2,123 604.2,124.6 604.3,127.8 604.6,129.3 604.6,132 604.9,133.5 605,136.2 605.1,137.2 605.1,138.6 605.2,139.4 605.2,141.3 605.3,142.1 605.6,143.5 605.5,144.7 605.8,145.8 605.8,148 605.8,148.7 606,150.2 606,150.8 606.1,152.5 606.2,153.6 606.2,155.3 606.4,156.3 606.3,157.8 606.6,158.6 606.7,160.6 606.5,161.8 606.6,163.3 606.9,165.6 606.9,167.4 607.1,169 606.8,169.7 607,170.2 607.1,170.5"/></g>
<g fill="#0000ff"><circle cx="408.4" cy="85.7" r="1.25"/><circle cx="423.9" cy="86.8" r="1.25"/><circle cx="434.2" cy="87.3" r="1.25"/><circle cx="441.9" cy="87.7" r="1.25"/><circle cx="448" cy="88" r="1.25"/><circle cx="453.1" cy="88.3" r="1.25"/><circle cx="457.4" cy="88.5" r="1.25"/><circle cx="461.2" cy="88.7" r="1.25"/><circle cx="464.6" cy="89" r="1.25"/><circle cx="467.7" cy="89.2" r="1.25"/><circle cx="470.5" cy="89.4" r="1.25"/><circle cx="473" cy="89.5" r="1.25"/><polyline fill="none" stroke="#0000ff" stroke-width="2.6" stroke-linejoin="round" stroke-linecap="round" points="475.3,90 475.7,89.6 476.5,90 477.7,89.9 479.2,89.1 481.2,89.8 483.5,90.1 484.6,89.5 486,90.3 487.5,89.4 489.3,90.1 490.7,90.3 492.6,90.2 494.2,90.6 496.1,90.6 497.5,91 498.8,90.3 499.8,90.9 501.1,91.7 502.5,91 503.9,91.1 505.5,91.7 506.8,91.8 508.1,91.8 509.9,92.7 511.4,92.3 512.6,92.3 513.9,92.9 515.1,93.2 516.3,93.3 517.6,93.3 518.9,94 519.8,93.9 521.3,94.3 522.5,94.4 523.7,95.2 524.9,95.4 526.3,95.5 527.5,96.1 528.7,96.3 529.8,96 531.2,95.8 532.5,96.1 533.7,96.5 535,97.2 536.2,97.3 537.4,97.8 538.5,97.5 539.9,97.7 541.1,98 542,98.1 543.5,99.4 544.6,99.3 545.7,99.9 547.1,99.2 548.1,100.1 549.3,100.6 550.6,100.1 551.9,100.5 553.1,100.5 554.4,101 555.6,101 556.7,102.3 557.8,101.4 559,102.4 560.1,102.6 561.2,102.7 562.9,103 564.3,103 565.7,103.3 567,104.7 568.2,104.4 569.2,104.5 571,105 572.6,105 573.8,106.2 575.1,106.2 577.1,106.4 578.7,107.8 580,107.5 580.6,107.6 581,109.2 581.3,109.8 581.9,109.5 582.2,110.8 582.5,112.1 582.8,113.2 583.2,113.6 583.6,114.9 583.8,117.1 584.1,118 584.2,119.3 584.5,120.8 584.8,121.9 585.1,123 585.5,124 585.6,126.2 585.9,127.4 586.4,128.6 586.4,129.8 586.9,131.7 587,134.3 587.1,136.4 587.4,138.8 587.6,139.8 587.6,141.1 587.7,142.1 587.8,144.3 588.1,145.6 588,147 588.3,148.1 588.4,149.4 588.4,150.8 588.5,151.6 588.6,153.2 588.9,154.5 589.1,155.7 589.1,157.3 589.2,159.4 589.4,160.1 589.4,162.2 589.7,163.1 589.7,165.2 589.9,166.1 590.1,168.5 590.3,169.8 590.4,171.8 590.3,172.6 590.3,174.1 590.5,173.8"/></g>
<g fill="#ff00ff"><circle cx="408.4" cy="81.6" r="1.25"/><circle cx="423.9" cy="82.7" r="1.25"/><circle cx="434.2" cy="83.6" r="1.25"/><circle cx="441.9" cy="84.3" r="1.25"/><circle cx="448" cy="84.9" r="1.25"/><circle cx="453.1" cy="85.4" r="1.25"/><circle cx="457.4" cy="85.8" r="1.25"/><circle cx="461.2" cy="86.1" r="1.25"/><circle cx="464.6" cy="86.3" r="1.25"/><circle cx="467.7" cy="86.5" r="1.25"/><circle cx="470.5" cy="86.7" r="1.25"/><circle cx="473" cy="86.8" r="1.25"/><polyline fill="none" stroke="#ff00ff" stroke-width="2.6" stroke-linejoin="round" stroke-linecap="round" points="475.3,86.4 475.6,86.5 476.4,87.5 477.8,87.3 479.2,87 481.2,87.5 483.5,87.3 484.7,87.3 486.3,87.5 487.5,87.5 489.2,86.9 491,87.6 492.5,87.1 494.1,88.2 495.8,88.2 497.4,88.5 499,88.4 500.8,89.1 502.5,88.9 504.3,89.6 506,89.5 507.2,90.6 508.2,91 509.4,90.5 510.7,91 511.9,92.1 513.2,92.3 514.3,92.8 515.7,93.1 517,93.7 518.1,93.2 519.4,94.5 520.6,94.6 522,95.3 522.9,95.3 524.2,95.2 525.7,96 526.9,96.4 528.1,96.5 529.3,97.7 530.7,97.4 531.7,97.7 533.2,98.3 534.4,99.1 535.5,99.3 536.7,99.9 538,99.6 539.5,100 540.5,101 541.9,101.4 543.1,101.2 544.5,101.6 545.8,101.5 547,101.9 548.1,102 549.1,103.4 550.4,103.5 552,103.4 553.7,104.1 555.5,104.4 557,105.3 558.6,105.3 559.8,105.5 561.4,106.2 562.8,106.1 564.2,106 565.4,106.6 566.8,106.6 567.8,107.3 570,107.4 572.2,107.4 573.9,107.9 575.5,108.2 576.8,107.7 577.6,108.2 578.6,109.4 578.9,109.4 579.3,109.1 579.5,110.3 579.8,110 580,110.3 580.1,110.6 580.4,111 580.4,111.2 580.3,111.6"/><circle cx="580.9" cy="114" r="1.25"/><circle cx="580.9" cy="117" r="1.25"/><circle cx="580.9" cy="120" r="1.25"/><circle cx="580.9" cy="123" r="1.25"/><circle cx="580.9" cy="126" r="1.25"/><circle cx="580.9" cy="129" r="1.25"/><circle cx="580.9" cy="132" r="1.25"/><circle cx="580.9" cy="135" r="1.25"/><circle cx="580.9" cy="138" r="1.25"/><circle cx="580.9" cy="141" r="1.25"/><circle cx="580.9" cy="144" r="1.25"/><circle cx="580.9" cy="147" r="1.25"/><circle cx="580.9" cy="150.5" r="1.25"/><circle cx="580.9" cy="154.4" r="1.25"/></g>
<g fill="#ff8000"><circle cx="408.4" cy="78.5" r="1.25"/><circle cx="423.9" cy="79" r="1.25"/><circle cx="434.2" cy="79.8" r="1.25"/><circle cx="441.9" cy="80.5" r="1.25"/><circle cx="448" cy="81" r="1.25"/><circle cx="453.1" cy="81.4" r="1.25"/><circle cx="457.4" cy="81.8" r="1.25"/><circle cx="461.2" cy="82.1" r="1.25"/><circle cx="464.6" cy="82.6" r="1.25"/><circle cx="467.7" cy="82.9" r="1.25"/><circle cx="470.5" cy="83.2" r="1.25"/><circle cx="473" cy="83.2" r="1.25"/><polyline fill="none" stroke="#ff8000" stroke-width="2.6" stroke-linejoin="round" stroke-linecap="round" points="475.4,83.5 475.5,82.9 476.1,83.7 476.8,83.1 477.5,83.3 478.9,82.9 480.2,83 481.7,82.8 483.5,83.3 485.6,84 487.2,83.3 489.3,83.2 490.9,83.6 492.7,83.6 494.7,83.9 496.7,83.9 498.3,84.8 500.3,85 502.2,85.2 504,84.7 506,85.4 507.8,86 509.8,85.9 511.5,87.1 513.4,86.8 515.4,87.2 517.5,87.5 519.6,88.7 521.7,89.8 523.9,89.6 525,90.3 526.4,90.9 527.5,91.4 528.6,91.2 530.1,92.4 531.3,92.4 532.5,92.4 533.8,93.2 535.7,93.5 537.9,94.1 539.6,95.4 541.4,95.5 543,96.5 544.2,96.3 545.5,96.8 546.9,97.7 548.3,97.8 549.7,98.3 551.1,99.1 552.8,99.5 554.1,99.8 556,100.1 557.7,101.1 559.2,101.6 560.5,102.2 561.5,102.5 562.8,102.9 563.5,102.8 564.3,104.3 564.7,104.1 565.1,104.5 565.6,106.2 566,106.2 566.2,106.5 566.5,107.6 566.5,108.8 566.7,109.3 566.9,110.4 567.2,111.9 567.2,113 567.3,113.5 567.7,115 567.7,116.7 567.8,118.5 568,120.2 568.4,121.6 568.3,123.8 568.4,125.4 568.8,126.9 569,129.8 569.2,131.6 569.4,134.1 569.5,136.8 569.9,137.9 570,138.5 570.2,139.5 570.1,140.8 570.2,142.7 570.4,143.7 570.4,144.6 570.6,146 570.6,147.8 570.8,148.7 570.8,150.2 570.9,151 571.2,152.7 571.4,154 571.5,155.5 571.5,156.5 571.4,157.1 571.4,159.2 571.8,160.2 571.7,161.1 571.8,163.6 572.2,165.1 572,166.5 572.2,168.6 572.4,169 572.2,169.2 572.3,170.3"/></g>
<g fill="#000080"><circle cx="408.4" cy="75.2" r="1.25"/><circle cx="423.9" cy="75.7" r="1.25"/><circle cx="434.2" cy="76.3" r="1.25"/><circle cx="441.9" cy="76.7" r="1.25"/><circle cx="448" cy="77.1" r="1.25"/><circle cx="453.1" cy="77.4" r="1.25"/><circle cx="457.4" cy="77.7" r="1.25"/><circle cx="461.2" cy="77.9" r="1.25"/><circle cx="464.6" cy="78.1" r="1.25"/><circle cx="467.7" cy="78.3" r="1.25"/><circle cx="470.5" cy="78.4" r="1.25"/><circle cx="473" cy="78.5" r="1.25"/><polyline fill="none" stroke="#000080" stroke-width="2.6" stroke-linejoin="round" stroke-linecap="round" points="475.3,79.2 475.9,79 476.5,79 477.5,78.2 479.2,78.7 481,78.5 483.3,79.4 484.9,79.5 486.3,78.9 487.8,78.9 489.3,79.5 490.6,78.6 492.1,79.4 493.6,78.8 495.3,79.8 496.6,79.1 498.2,79.8 499.3,79.7 500.9,80.5 502.2,80.4 503.4,80.1 505,80.5 506,80.9 507.3,80.7 508.7,81.4 510,81.7 511.2,81.2 512.6,81.5 513.7,82.2 515.1,82.8 516.2,83 517.6,83.1 518.6,84 520,83.3 521.2,84.7 522.4,84.3 523.9,85.2 525,85.4 526.1,85 527.7,86.2 528.6,85.7 529.9,87.2 531.1,87.3 532.6,87.6 533.8,87.5 534.7,87.6 536.1,88.1 538.5,89.5 540.4,90.3 542.5,90.6 544.5,91.6 546.7,92.4 548.3,92.9 550.2,93.4 551.6,93.8 553,94.6 554,94.4 555.1,95.3 555.9,95.6 556.6,96.3 557.1,98 557.4,98 557.8,99.1 558,100.1 558.5,101.9 558.6,102.8 558.9,105.3 559.2,106.1 559.1,108.2 559.4,109.9 559.5,112.8 559.7,113.5 559.6,115.5 560,117.9 560.1,119.6 560.2,121.7 560.5,123.9 560.7,125.7 561,127.8 561.1,129 561.3,132.1 561.5,134.4 561.7,136.9 561.9,137.8 562,138.5 562.2,139.8 562.3,141.2 562.7,142.7 562.9,144.1 563,145.6 563.1,146 563.1,147.4 563.1,148.5 563.6,150.6 563.5,151.7 563.8,153.1 564,153.9 563.8,155.6 564.1,156.6 564.2,157.8 564.5,158.6 564.5,160.5 564.6,162.1 564.8,164.3 565.1,166.3 565,167 565.2,169.2 565.2,169.3 565.5,170.9 565.4,170.5"/></g>
<g fill="#8000ff"><circle cx="408.4" cy="69.3" r="1.25"/><circle cx="423.9" cy="70.6" r="1.25"/><circle cx="434.2" cy="71.3" r="1.25"/><circle cx="441.9" cy="71.8" r="1.25"/><circle cx="448" cy="72.2" r="1.25"/><circle cx="453.1" cy="72.5" r="1.25"/><circle cx="457.4" cy="72.8" r="1.25"/><circle cx="461.2" cy="73.1" r="1.25"/><circle cx="464.6" cy="73.4" r="1.25"/><circle cx="467.7" cy="73.6" r="1.25"/><circle cx="470.5" cy="73.8" r="1.25"/><circle cx="473" cy="74" r="1.25"/><polyline fill="none" stroke="#8000ff" stroke-width="2.6" stroke-linejoin="round" stroke-linecap="round" points="475.4,74.4 475.8,74.5 476.4,74 477.5,74.6 479.1,74.2 481.3,74.8 483.5,75 484.8,75.1 486.1,74.5 487.5,74.5 489.2,74.8 490.6,75.3 492.4,75.7 493.6,76 495,75.4 496.5,76 498.1,76.2 499.5,76 501,76.6 502.3,76.5 503.7,77 505,78 506.2,77.7 507.3,77.9 508.9,78.2 510.1,79.1 511.3,79 512.3,79.3 513.8,80 514.9,80.6 515.9,80.4 518.1,82.1 520.3,83.1 522.5,83.6 524.5,84.5 526.5,84.8 528.4,85.4 530.1,87 531.6,87.2 533.1,87.6 534.1,88.2 535.2,88.8 536.1,89.4 536.9,89.2 537.3,90.4 537.6,89.8 538.2,90.3 538.6,91.5 538.9,91.3 539.5,91.9 539.8,92.9 540.2,93.1 540.6,94.3 541.2,95.3 541.2,95.9 541.8,97.4 542.1,99 542.3,99.3 542.6,101.2 542.6,102.3 543,104 542.9,105.6 543.3,107.4 543.4,108.4 543.5,110.1 543.5,111.9 543.7,112.6 544.1,114.4 543.9,115 544.2,117.1 544.1,118.8 544.5,120.8 544.5,123 544.8,124.4 544.7,125.8 545.1,127 545.2,127.9 545.3,129.1 545.2,131.1 545.6,132 545.5,133.5 545.7,135.2 545.7,137.5 546,139.3 546.1,140.5 546.1,142.4 546.3,143.4 546.5,145.5 546.6,147.1 546.8,147.7 547,149.3 547.2,151.1 547,153.3 547.2,154.2 547.3,156.1 547.3,157.2 547.5,159.3 547.6,160.4 547.8,161.6 548.1,164.2 548.1,165.6 548.2,168 548.3,168.2 548.5,169.5 548.6,169.3"/></g>
<g fill="#ff0080"><circle cx="408.4" cy="68.8" r="1.25"/><circle cx="423.9" cy="68.3" r="1.25"/><circle cx="434.2" cy="67.8" r="1.25"/><circle cx="441.9" cy="67.4" r="1.25"/><circle cx="448" cy="67" r="1.25"/><circle cx="453.1" cy="66.7" r="1.25"/><circle cx="457.4" cy="66.4" r="1.25"/><circle cx="461.2" cy="66.2" r="1.25"/><circle cx="464.6" cy="66.1" r="1.25"/><circle cx="467.7" cy="66" r="1.25"/><circle cx="470.5" cy="66" r="1.25"/><circle cx="473" cy="66.3" r="1.25"/><polyline fill="none" stroke="#ff0080" stroke-width="2.6" stroke-linejoin="round" stroke-linecap="round" points="475.3,66.1 475.5,66.5 475.8,67 476.3,67.1 477,66.4 477.8,66.7 478.4,67.3 479.4,66.4 480.7,66.8 482.2,67.7 483.4,67.5 485,68 486.5,67.9 487.9,67.9 489.8,68.6 491.7,69.3 493.6,68.9 495.2,70.2 497.4,69.9 499.6,70.6 501.6,71.4 504,72.6 505,73.1 506.4,73.2 507.6,74.1 508.6,74.2 510.1,75 511.3,74.8 512.6,76 513.5,76.1 515.9,76.7 517.8,78.4 519.8,78.2 521.5,79 523,80.1 524.2,80 525.5,80.4 526.6,80.7 527.8,81.4 528.7,82 529.8,82.3 530.4,82.8 531.1,82.5 531.7,82.6 532.3,83.1 532.7,84.5 533.3,84.9 533.7,85.3 534.1,86.5 534.4,87.2 534.8,87.6 535.3,89.2 535.7,90.9 535.9,91.3 536,93 536.6,93.9 536.6,94.8 536.9,96.9 537.1,97.5 537.5,99.2 537.9,99.5 537.8,101.6 538.3,101.5 538.2,102.6 538.3,103.1 538.4,103.3 538.3,103.4 538.4,103.5"/><circle cx="539.7" cy="108" r="1.25"/><circle cx="539.7" cy="111" r="1.25"/><circle cx="539.7" cy="114" r="1.25"/><circle cx="539.7" cy="117" r="1.25"/><circle cx="539.7" cy="120.5" r="1.25"/><circle cx="539.7" cy="124" r="1.25"/><circle cx="539.7" cy="128" r="1.25"/><circle cx="540.5" cy="133.9" r="1.25"/><circle cx="540.5" cy="140.5" r="1.25"/><circle cx="540.5" cy="148.5" r="1.25"/><circle cx="540.5" cy="159.6" r="1.25"/></g>
<circle cx="77.6" cy="158.2" r="1.25" fill="#000"/><text x="93.4" y="161.8" class="lg">0.3%</text><circle cx="131.2" cy="158.2" r="1.25" fill="#ff0000"/><text x="147.1" y="161.8" class="lg">0.35%</text><circle cx="77.6" cy="172.7" r="1.25" fill="#0000ff"/><text x="93.4" y="176.3" class="lg">0.4%</text><circle cx="131.2" cy="172.7" r="1.25" fill="#ff00ff"/><text x="147.1" y="176.3" class="lg">0.5%</text><circle cx="77.6" cy="187" r="1.25" fill="#ff8000"/><text x="93.4" y="190.6" class="lg">0.6%</text><circle cx="131.2" cy="187" r="1.25" fill="#000080"/><text x="147.1" y="190.6" class="lg">0.65%</text><circle cx="77.6" cy="201.2" r="1.25" fill="#8000ff"/><text x="93.4" y="204.8" class="lg">0.7%</text><circle cx="131.2" cy="201.2" r="1.25" fill="#ff0080"/><text x="147.1" y="204.8" class="lg">0.8%</text><circle cx="77.6" cy="215.6" r="1.25" fill="#008000"/><text x="93.4" y="219.2" class="lg">0.9%</text><circle cx="131.2" cy="215.6" r="1.25" fill="#800000"/><text x="147.1" y="219.2" class="lg">1.0%</text>
<circle cx="421.9" cy="170.8" r="1.25" fill="#000"/><text x="434.4" y="174.4" class="lg">0.275%</text><circle cx="482.3" cy="170.8" r="1.25" fill="#ff0000"/><text x="495" y="174.4" class="lg">0.3%</text><circle cx="421.9" cy="185.3" r="1.25" fill="#0000ff"/><text x="434.4" y="188.9" class="lg">0.35%</text><circle cx="482.3" cy="185.3" r="1.25" fill="#ff00ff"/><text x="495" y="188.9" class="lg">0.375%</text><circle cx="421.9" cy="199.9" r="1.25" fill="#ff8000"/><text x="434.4" y="203.5" class="lg">0.4%</text><circle cx="482.3" cy="199.9" r="1.25" fill="#000080"/><text x="495" y="203.5" class="lg">0.45%</text><circle cx="421.9" cy="214.6" r="1.25" fill="#8000ff"/><text x="434.4" y="218.2" class="lg">0.5%</text><circle cx="482.3" cy="214.6" r="1.25" fill="#ff0080"/><text x="495" y="218.2" class="lg">0.6%</text>
</svg>
</body></html>
